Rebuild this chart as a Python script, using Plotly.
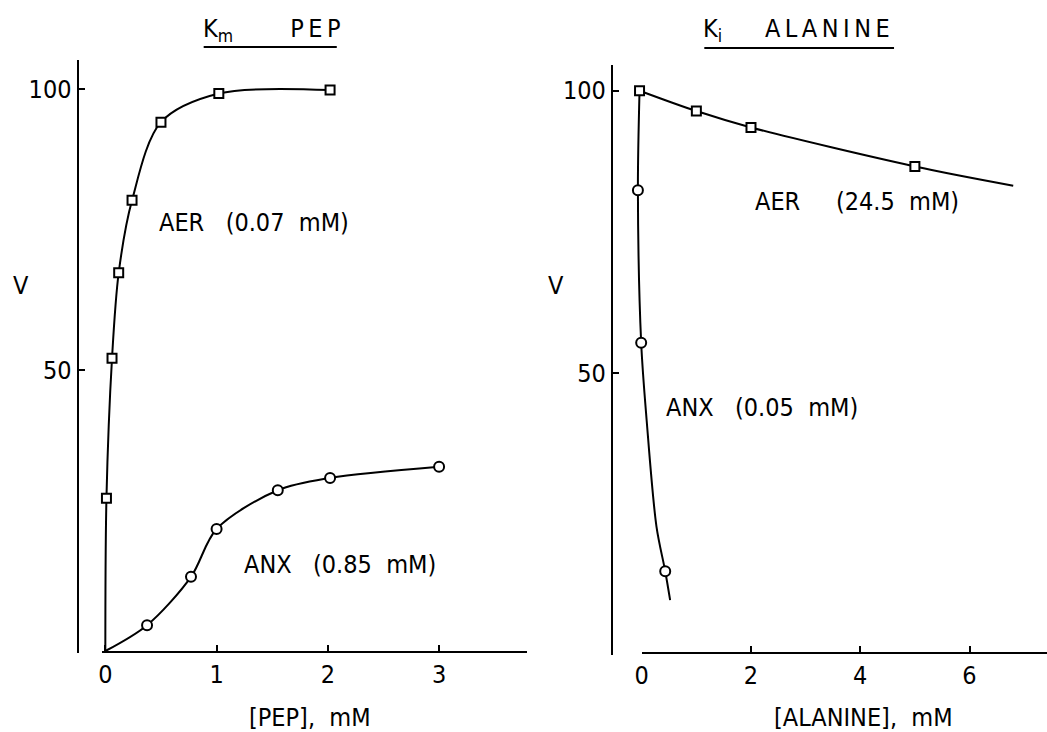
import plotly.graph_objects as go

# ---------------- data ----------------
# Left panel: Km PEP
pep_aer_x = [0.01, 0.06, 0.12, 0.24, 0.5, 1.02, 2.02]
pep_aer_v = [27.2, 52.1, 67.3, 80.2, 94.1, 99.2, 99.8]
pep_anx_x = [0.375, 0.77, 1.0, 1.55, 2.02, 3.0]
pep_anx_v = [4.6, 13.2, 21.7, 28.6, 30.8, 32.8]
# drawn curves start at the origin
pep_aer_curve_x = [0.0] + pep_aer_x
pep_aer_curve_v = [0.0] + pep_aer_v
pep_anx_curve_x = [0.0] + pep_anx_x
pep_anx_curve_v = [0.0] + pep_anx_v

# Right panel: Ki alanine
ala_aer_x = [-0.04, 1.0, 2.0, 5.0]
ala_aer_v = [100.0, 96.4, 93.5, 86.6]
ala_anx_x = [-0.07, -0.01, 0.43]
ala_anx_v = [82.4, 55.4, 15.0]
ala_aer_curve_x = ala_aer_x + [6.8]
ala_aer_curve_v = ala_aer_v + [83.2]
ala_anx_curve_x = [-0.04, -0.07, -0.01, 0.09, 0.27, 0.43, 0.52]
ala_anx_curve_v = [100.0, 82.4, 55.4, 41.7, 22.9, 15.0, 9.9]

pep_ticks = [0, 1, 2, 3]
ala_ticks = [0, 2, 4, 6]
v_ticks = [50, 100]

W, H = 1047, 732
FONT = "DejaVu Sans Condensed, DejaVu Sans, sans-serif"
BLACK = "black"
NB = "\u00a0"
XS = -4  # horizontal correction in pixels


def px(xp):
    return (xp + XS) / W


def py(yp):
    return 1 - yp / H


fig = go.Figure()

line_style = dict(color=BLACK, width=2, shape="spline", smoothing=0.9)
sq = dict(symbol="square", size=9, color="white", line=dict(width=2, color=BLACK))
ci = dict(symbol="circle", size=10, color="white", line=dict(width=2, color=BLACK))

# empty trace so that the visible right-hand x axis (x3) is drawn (added first: drawn underneath)
fig.add_trace(go.Scatter(x=[], y=[], mode="markers", xaxis="x3", yaxis="y2", hoverinfo="skip"))
# left
fig.add_trace(go.Scatter(x=pep_aer_curve_x, y=pep_aer_curve_v, mode="lines", line=line_style,
                         xaxis="x", yaxis="y", hoverinfo="skip"))
fig.add_trace(go.Scatter(x=pep_anx_curve_x, y=pep_anx_curve_v, mode="lines", line=line_style,
                         xaxis="x", yaxis="y", hoverinfo="skip"))
fig.add_trace(go.Scatter(x=pep_aer_x, y=pep_aer_v, mode="markers", marker=sq,
                         xaxis="x", yaxis="y", cliponaxis=False))
fig.add_trace(go.Scatter(x=pep_anx_x, y=pep_anx_v, mode="markers", marker=ci,
                         xaxis="x", yaxis="y", cliponaxis=False))
# right
fig.add_trace(go.Scatter(x=ala_aer_curve_x, y=ala_aer_curve_v, mode="lines", line=line_style,
                         xaxis="x2", yaxis="y2", hoverinfo="skip"))
fig.add_trace(go.Scatter(x=ala_anx_curve_x, y=ala_anx_curve_v, mode="lines", line=line_style,
                         xaxis="x2", yaxis="y2", hoverinfo="skip"))
fig.add_trace(go.Scatter(x=ala_aer_x, y=ala_aer_v, mode="markers", marker=sq,
                         xaxis="x2", yaxis="y2", cliponaxis=False))
fig.add_trace(go.Scatter(x=ala_anx_x, y=ala_anx_v, mode="markers", marker=ci,
                         xaxis="x2", yaxis="y2", cliponaxis=False))

tickfont = dict(family=FONT, size=25, color=BLACK)
common_x = dict(showgrid=False, zeroline=False, showline=True, linecolor=BLACK, linewidth=2,
                ticks="inside", ticklen=6, tickwidth=2, tickcolor=BLACK, tickfont=tickfont,
                fixedrange=True)
common_y = dict(showgrid=False, zeroline=False, showline=True, linecolor=BLACK, linewidth=2,
                ticks="inside", ticklen=6, tickwidth=2, tickcolor=BLACK, tickfont=tickfont,
                fixedrange=True)

# left axes: x=0 at px 103, 112 px per unit; v=0 at py 651, 5.62 px per unit
lx0, lx1 = 100, 528
l_xr = [(lx0 - 103) / 112, (lx1 - 103) / 112]
ly_top, ly_bot = 60, 653
l_yr = [(651 - ly_bot) / 5.62, (651 - ly_top) / 5.62]

# right axes: x=0 at px 643, 55 px per unit; v=0 at py 656, 5.653 px per unit
rx_data0, rx1 = 625, 1051
r_xr = [(rx_data0 - 643) / 55, (rx1 - 643) / 55]
ry_top, ry_bot = 65, 655
r_yr = [(656 - ry_bot) / 5.653, (656 - ry_top) / 5.653]

fig.update_layout(
    width=W, height=H,
    margin=dict(l=0, r=0, t=0, b=0),
    paper_bgcolor="white", plot_bgcolor="rgba(0,0,0,0)",
    showlegend=False,
    font=dict(family=FONT, color=BLACK, size=25),
    xaxis=dict(common_x, domain=[px(lx0), px(lx1)], range=l_xr, tickvals=pep_ticks,
               anchor="free", position=py(652)),
    yaxis=dict(common_y, domain=[py(ly_bot), py(ly_top)], range=l_yr, tickvals=v_ticks,
               anchor="free", position=px(75)),
    # data axis for right panel (hidden); xaxis3 draws the visible line and ticks
    xaxis2=dict(common_x, domain=[px(rx_data0), px(rx1)], range=r_xr, visible=False,
                anchor="free", position=py(653)),
    xaxis3=dict(common_x, domain=[px(643), px(rx1)], range=[0, (rx1 - 643) / 55],
                tickvals=ala_ticks, anchor="free", position=py(653)),
    yaxis2=dict(common_y, domain=[py(ry_bot), py(ry_top)], range=r_yr, tickvals=v_ticks,
                anchor="free", position=px(613)),
)

ann_font = dict(family=FONT, size=25, color=BLACK)
annotations = [
    dict(text=f"AER{NB*3}(0.07{NB*2}mM)", x=px(155), y=py(222), xanchor="left", yanchor="middle"),
    dict(text=f"ANX{NB*3}(0.85{NB*2}mM)", x=px(241), y=py(564), xanchor="left", yanchor="middle"),
    dict(text=f"AER{NB*5}(24.5{NB*2}mM)", x=px(755), y=py(202), xanchor="left", yanchor="middle"),
    dict(text=f"ANX{NB*3}(0.05{NB*2}mM)", x=px(665), y=py(408), xanchor="left", yanchor="middle"),
    dict(text="V", x=px(18), y=py(285), xanchor="center", yanchor="middle"),
    dict(text="V", x=px(557), y=py(285), xanchor="center", yanchor="middle"),
    dict(text=f"[PEP],{NB}{NB}mM", x=px(309), y=py(717), xanchor="center", yanchor="middle"),
    dict(text=f"[ALANINE],{NB}{NB}mM", x=px(866), y=py(717), xanchor="center", yanchor="middle"),
    dict(text=f"K<sub>m</sub>{NB*8}P\u2009E\u2009P", x=px(199), y=py(30), xanchor="left", yanchor="middle"),
    dict(text=f"K<sub>i</sub>{NB*6}A\u2009L\u2009A\u2009N\u2009I\u2009N\u2009E", x=px(703), y=py(30),
         xanchor="left", yanchor="middle"),
]
for a in annotations:
    a.update(xref="paper", yref="paper", showarrow=False, font=ann_font)
fig.update_layout(annotations=annotations)

# title underlines
fig.add_shape(type="line", xref="paper", yref="paper", x0=px(202), x1=px(336), y0=py(47), y1=py(47),
              line=dict(color=BLACK, width=2))
fig.add_shape(type="line", xref="paper", yref="paper", x0=px(706), x1=px(897), y0=py(48), y1=py(48),
              line=dict(color=BLACK, width=2))

fig.write_html("out.html",
               config={"displayModeBar": False},
               post_script="document.body.style.margin='0';document.body.style.overflow='hidden';")
